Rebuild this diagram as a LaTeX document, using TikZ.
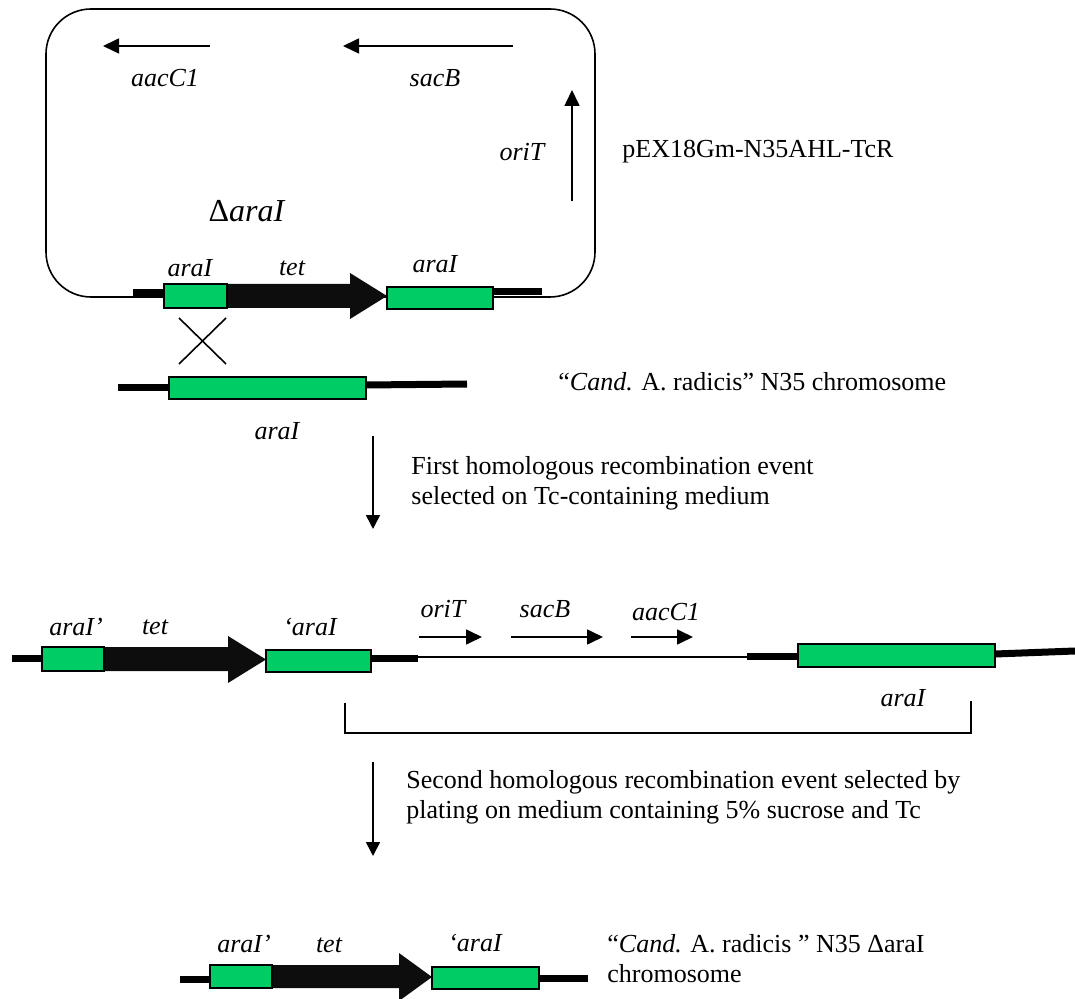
\documentclass[tikz,border=0pt]{standalone}
\usepackage{fontspec}
\setmainfont{Liberation Serif}
\usetikzlibrary{arrows.meta}
\definecolor{genegreen}{RGB}{0,204,102}
\begin{document}
\begin{tikzpicture}[x=0.5pt,y=-0.5pt,
  dna/.style={line width=3.5pt},
  thinln/.style={line width=0.8pt},
  genebox/.style={draw, fill=genegreen, line width=1pt},
  tetfill/.style={fill=black!95},
  glabel/.style={font=\fontsize{13}{15}\selectfont\itshape, inner sep=0pt},
  txt/.style={font=\fontsize{13}{15}\selectfont, align=left, inner sep=0pt, anchor=west},
  genearrow/.style={thinln, -{Triangle[length=8pt,width=7.5pt]}},
  steparrow/.style={thinln, -{Triangle[length=7pt,width=7pt]}},
]
\useasboundingbox (0,0) rectangle (1075,999);

% ---------- plasmid ----------
\draw[thinln, rounded corners=22.5pt] (46,9) rectangle (595,297);
\coordinate (aacS) at (210,46); \coordinate (aacE) at (103,46);
\draw[genearrow] (aacS) -- (aacE);
\coordinate (sacS) at (513,46); \coordinate (sacE) at (343,46);
\draw[genearrow] (sacS) -- (sacE);
\coordinate (oriS) at (572,201); \coordinate (oriE) at (572,90);
\draw[genearrow] (oriS) -- (oriE);
\node[glabel] (laac) at (165,78) {aacC1};
\node[glabel] (lsac) at (435,78) {sacB};
\node[glabel] (lori) at (522,152) {oriT};
\node[txt] (lpex) at (622,152) {pEX18Gm-N35AHL-TcR};
\node[inner sep=0pt, font=\fontsize{16}{18}\selectfont] (ldel) at (247,211) {Δ\textit{araI}};

% construct in plasmid
\draw[dna] (133,292.5) -- (165,292.5);
\draw[dna] (493,292) -- (542,292);
\fill[tetfill] (227,284) -- (350,284) -- (350,273) -- (387,296) -- (350,319) -- (350,308) -- (227,308) -- cycle;
\draw[genebox] (164,284) rectangle (227,308);
\draw[genebox] (387,287) rectangle (493,309);
\node[glabel] (la1) at (190,268) {araI};
\node[glabel] (lt1) at (292,268) {tet};
\node[glabel] (la2) at (435,264) {araI};

% crossover
\draw[thinln] (179,318) -- (226,364);
\draw[thinln] (179,364) -- (226,318);

% chromosome
\draw[dna] (118,388) -- (169,388);
\draw[dna] (366,385) -- (467,384);
\draw[genebox] (169,377) rectangle (366,399);
\node[glabel] (lc) at (277,431) {araI};
\node[txt] (lchr) at (558,382) {“\textit{Cand.} A. radicis” N35 chromosome};

% step arrow 1
\coordinate (s1a) at (373,436); \coordinate (s1b) at (373,529);
\draw[steparrow] (s1a) -- (s1b);
\node[txt] (lstep1) at (411,483) {First homologous recombination event\\selected on Tc-containing medium};

% ---------- middle row ----------
\draw[dna] (12,658) -- (42,658);
\fill[tetfill] (104,647) -- (228,647) -- (228,636) -- (266,659.5) -- (228,683) -- (228,671) -- (104,671) -- cycle;
\draw[genebox] (42,647) rectangle (104,671);
\draw[genebox] (266,650) rectangle (371,672);
\draw[dna] (371,658) -- (418,658);
\draw[line width=1pt] (418,657) -- (747,657);
\draw[dna] (747,656) -- (798,656);
\draw[genebox] (798,644) rectangle (995,667);
\draw[dna] (995,654) -- (1075,651);
\coordinate (m1s) at (419,637); \coordinate (m1e) at (482,637);
\coordinate (m2s) at (511,637); \coordinate (m2e) at (603,637);
\coordinate (m3s) at (631,637); \coordinate (m3e) at (693,637);
\draw[genearrow] (m1s) -- (m1e);
\draw[genearrow] (m2s) -- (m2e);
\draw[genearrow] (m3s) -- (m3e);
\node[glabel] (lmo) at (443,609) {oriT};
\node[glabel] (lms) at (545,609) {sacB};
\node[glabel] (lma) at (666,612) {aacC1};
\node[glabel] (lm1) at (76,627) {araI’};
\node[glabel] (lm2) at (155,627) {tet};
\node[glabel] (lm3) at (310,627) {‘araI};
\node[glabel] (lm4) at (903,698) {araI};
\draw[thinln] (345,703) -- (345,733) -- (971,733) -- (971,701);

% step arrow 2
\coordinate (s2a) at (373,762); \coordinate (s2b) at (373,856);
\draw[steparrow] (s2a) -- (s2b);
\node[txt] (lstep2) at (406,797) {Second homologous recombination event selected by\\plating on medium containing 5\% sucrose and Tc};

% ---------- bottom row ----------
\draw[dna] (180,979) -- (210,979);
\fill[tetfill] (272,965) -- (399,965) -- (399,953) -- (432,977) -- (399,1001) -- (399,988) -- (272,988) -- cycle;
\draw[genebox] (210,965) rectangle (272,988);
\draw[genebox] (432,967) rectangle (539,989);
\draw[dna] (539,978) -- (588,978);
\node[glabel] (lb1) at (244,944) {araI’};
\node[glabel] (lb2) at (329,945) {tet};
\node[glabel] (lb3) at (475,943) {‘araI};
\node[txt] (lfin) at (607,959) {“\textit{Cand.} A. radicis ” N35 ΔaraI\\chromosome};
\end{tikzpicture}
\end{document}
